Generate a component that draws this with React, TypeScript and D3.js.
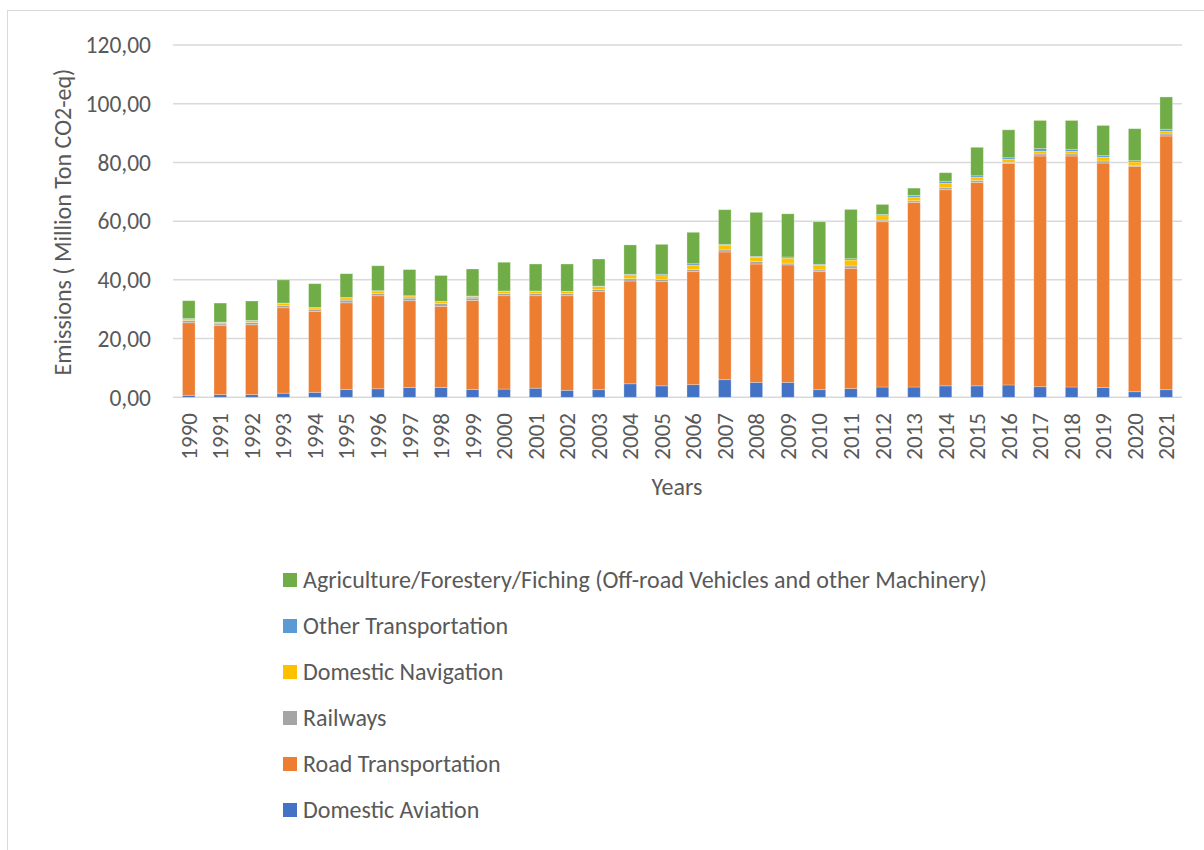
import React from "react";
import * as d3 from "d3";

const years = [
  "1990", "1991", "1992", "1993", "1994", "1995", "1996", "1997", "1998", "1999",
  "2000", "2001", "2002", "2003", "2004", "2005", "2006", "2007", "2008", "2009",
  "2010", "2011", "2012", "2013", "2014", "2015", "2016", "2017", "2018", "2019",
  "2020", "2021",
];

// values in million ton CO2-eq
const domesticAviation = [
  0.7, 0.9, 0.9, 1.4, 1.7, 2.7, 2.9, 3.3, 3.3, 2.7, 2.8, 3.1, 2.4, 2.6, 4.6, 3.9,
  4.3, 6.0, 5.1, 5.1, 2.6, 2.95, 3.5, 3.5, 3.9, 3.9, 4.2, 3.6, 3.5, 3.3, 1.9, 2.6,
];
const roadTransportation = [
  24.7, 23.5, 23.8, 29.1, 27.5, 29.5, 31.7, 29.6, 27.7, 30.3, 31.8, 31.5, 32.2, 33.4, 35.0, 35.5,
  38.5, 43.5, 40.3, 40.0, 40.2, 41.0, 56.3, 62.9, 66.8, 69.3, 75.5, 78.6, 78.7, 76.5, 76.8, 86.4,
];
const railways = [
  0.8, 0.6, 0.8, 0.8, 0.8, 0.9, 0.8, 0.9, 0.9, 0.8, 0.8, 0.7, 0.7, 0.7, 0.8, 0.8,
  0.7, 0.7, 0.8, 0.6, 0.6, 0.8, 0.55, 0.55, 0.7, 0.7, 0.35, 0.7, 0.7, 0.7, 0.35, 0.7,
];
const domesticNavigation = [
  0.5, 0.5, 0.6, 0.7, 0.5, 0.8, 0.8, 0.7, 0.7, 0.6, 0.7, 0.8, 0.7, 1.1, 1.3, 1.2,
  1.5, 1.6, 1.5, 1.7, 1.6, 2.0, 1.5, 1.25, 1.5, 1.0, 1.0, 0.9, 0.9, 1.25, 1.1, 0.9,
];
const otherTransportation = [
  0.1, 0.1, 0.1, 0.1, 0.1, 0.1, 0.1, 0.1, 0.1, 0.1, 0.1, 0.1, 0.1, 0.1, 0.2, 0.5,
  0.5, 0.3, 0.3, 0.4, 0.3, 0.45, 0.45, 0.55, 0.7, 0.55, 0.55, 0.9, 0.7, 0.55, 0.45, 0.7,
];
const agriculture = [
  6.1, 6.5, 6.6, 7.9, 8.1, 8.1, 8.5, 8.9, 8.8, 9.2, 9.8, 9.2, 9.3, 9.2, 10.0, 10.2,
  10.7, 11.8, 15.0, 14.7, 14.5, 16.8, 3.4, 2.5, 2.9, 9.7, 9.5, 9.6, 9.8, 10.3, 10.9, 11.0,
];

const seriesNames = [
  "Domestic Aviation",
  "Road Transportation",
  "Railways",
  "Domestic Navigation",
  "Other Transportation",
  "Agriculture/Forestery/Fiching (Off-road Vehicles and other Machinery)",
];
const seriesValues = [
  domesticAviation,
  roadTransportation,
  railways,
  domesticNavigation,
  otherTransportation,
  agriculture,
];
const colors = ["#4472C4", "#ED7D31", "#A5A5A5", "#FFC000", "#5B9BD5", "#70AD47"];
const yTicks = [0, 20, 40, 60, 80, 100, 120];

const W = 1204;
const H = 850;
const FONT = "Carlito, Calibri, Lato, sans-serif";
const TEXT = "#595959";

const locale = d3.formatLocale({
  decimal: ",",
  thousands: ".",
  grouping: [3],
  currency: ["", ""],
});
const fmt = locale.format(".2f");

export default function App() {
  const rows = years.map((year, i) => {
    const r: any = { year };
    seriesNames.forEach((name, k) => {
      r[name] = seriesValues[k][i];
    });
    return r;
  });
  const stacked = d3.stack().keys(seriesNames)(rows);

  const x = d3
    .scaleBand()
    .domain(years)
    .range([173, 1182])
    .paddingInner(0.6)
    .paddingOuter(0.3);
  const y = d3.scaleLinear().domain([0, 120]).range([397.3, 45]);

  // legend is listed top-down in reverse order
  const legendOrder = seriesNames.map((_, k) => k).reverse();

  return (
    <div style={{ position: "absolute", left: 0, top: 0 }}>
      <svg width={W} height={H} style={{ display: "block", fontFamily: FONT }}>
        <rect x={0} y={0} width={W} height={H} fill="#fff" />
        {/* chart frame, cut off at right and bottom */}
        <rect
          x={7.5}
          y={10.5}
          width={1300}
          height={900}
          fill="none"
          stroke="#d9d9d9"
          strokeWidth={1}
        />
        {/* grid + y labels */}
        {yTicks.map((t) => (
          <g key={t}>
            <line
              x1={173}
              x2={1182}
              y1={y(t)}
              y2={y(t)}
              stroke="#d9d9d9"
              strokeWidth={1.5}
            />
            <text
              x={151}
              y={y(t)}
              dy="0.35em"
              textAnchor="end"
              fontSize={23.5}
              fill={TEXT}
            >
              {fmt(t)}
            </text>
          </g>
        ))}
        {/* bars */}
        {stacked.map((layer, k) => (
          <g key={layer.key} fill={colors[k]}>
            {layer.map((d, i) => (
              <rect
                key={i}
                x={x(years[i])}
                width={x.bandwidth()}
                y={y(d[1])}
                height={Math.max(0, y(d[0]) - y(d[1]))}
                stroke="#ffffff"
                strokeOpacity={0.35}
                strokeWidth={0.8}
              />
            ))}
          </g>
        ))}
        {/* x labels */}
        {years.map((yr) => {
          const cx = (x(yr) as number) + x.bandwidth() / 2;
          return (
            <text
              key={yr}
              transform={`translate(${cx},413) rotate(-90)`}
              dy="0.35em"
              textAnchor="end"
              fontSize={23}
              fill={TEXT}
            >
              {yr}
            </text>
          );
        })}
        <text
          transform="translate(63,222) rotate(-90)"
          dy="0.35em"
          textAnchor="middle"
          fontSize={24}
          fill={TEXT}
        >
          Emissions ( Million Ton CO2-eq)
        </text>
        <text x={677} y={487} dy="0.35em" textAnchor="middle" fontSize={24} fill={TEXT}>
          Years
        </text>
        {/* legend */}
        {legendOrder.map((k, j) => {
          const cy = 580 + j * 46;
          return (
            <g key={seriesNames[k]}>
              <rect x={283} y={cy - 7} width={14} height={14} fill={colors[k]} />
              <text x={303} y={cy} dy="0.35em" fontSize={24} fill={TEXT}>
                {seriesNames[k]}
              </text>
            </g>
          );
        })}
      </svg>
    </div>
  );
}
